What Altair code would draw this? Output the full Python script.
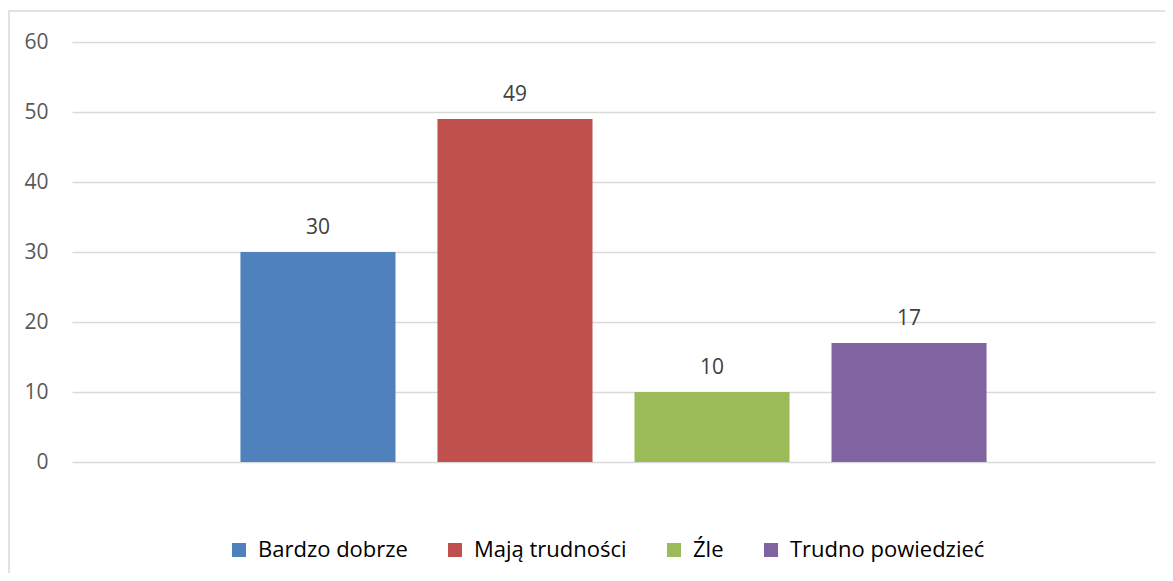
import altair as alt
import pandas as pd

categories = ["Bardzo dobrze", "Mają trudności", "Źle", "Trudno powiedzieć"]
values = [30, 49, 10, 17]
colors = ["#4F81BD", "#C0504D", "#9BBB59", "#8064A2"]
y_ticks = [0, 10, 20, 30, 40, 50, 60]

df = pd.DataFrame({"kategoria": categories, "wartosc": values})

FONT = "Open Sans"

x_enc = alt.X(
    "kategoria:N",
    sort=categories,
    axis=None,
    scale=alt.Scale(paddingInner=0.213, paddingOuter=0.855),
)
y_enc = alt.Y(
    "wartosc:Q",
    scale=alt.Scale(domain=[0, 60], nice=False),
    axis=alt.Axis(
        values=y_ticks,
        title=None,
        domain=False,
        ticks=False,
        labelPadding=24,
        labelFont=FONT,
        labelFontSize=21,
        labelColor="#595959",
        gridColor="#d9d9d9",
        gridWidth=1.5,
    ),
)

bars = alt.Chart(df).mark_bar().encode(
    x=x_enc,
    y=y_enc,
    color=alt.Color(
        "kategoria:N",
        sort=categories,
        scale=alt.Scale(domain=categories, range=colors),
        legend=alt.Legend(
            title=None,
            orient="none",
            legendX=156,
            legendY=497,
            direction="horizontal",
            symbolType="square",
            symbolSize=196,
            symbolStrokeWidth=0,
            symbolOpacity=1,
            labelFont=FONT,
            labelFontSize=22,
            labelColor="#000000",
            labelOffset=8,
            columnPadding=36,
            labelLimit=400,
        ),
    ),
)

labels = alt.Chart(df).mark_text(
    baseline="alphabetic", dy=-18, font=FONT, fontSize=21, color="#404040"
).encode(
    x=alt.X("kategoria:N", sort=categories),
    y="wartosc:Q",
    text="wartosc:Q",
)

border = alt.Chart(alt.Data(values=[{}])).mark_rect(
    filled=False, stroke="#d9d9d9", strokeWidth=1.5
).encode(
    x=alt.value(-63), x2=alt.value(1200), y=alt.value(-31), y2=alt.value(700)
)

chart = alt.layer(border, bars, labels).properties(
    width=1083,
    height=420,
    autosize=alt.AutoSizeParams(type="none"),
    padding={"left": 64, "top": 34, "right": 10, "bottom": 111},
).configure_view(stroke=None)

chart.save("out.html", embed_options={"renderer": "svg", "actions": False})
